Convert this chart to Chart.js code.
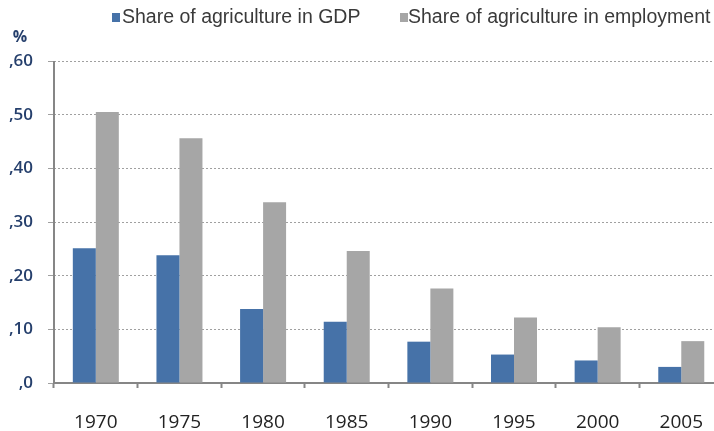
<!DOCTYPE html>
<html lang="en">
<head>
<meta charset="UTF-8">
<title>Share of agriculture</title>
<style>
    body {
        margin: 0;
        background: #ffffff;
        overflow: hidden;
    }
    #wrap {
        width: 726px;
        height: 431px;
    }
</style>
</head>
<body>
<div id="wrap"><canvas id="chart"></canvas></div>

<script src="https://cdn.jsdelivr.net/npm/chart.js"></script>
<script>
    const years = ['1970', '1975', '1980', '1985', '1990', '1995', '2000', '2005'];
    const gdpShare = [0.251, 0.238, 0.138, 0.114, 0.077, 0.053, 0.042, 0.030];
    const employmentShare = [0.505, 0.456, 0.337, 0.246, 0.176, 0.122, 0.104, 0.078];
    const yTicks = [0, 0.1, 0.2, 0.3, 0.4, 0.5, 0.6];

    const axisGray = '#868686';
    const labelNavy = '#253f6c';

    // legend row at the top, the "%" unit above the y axis and a solid y axis line
    const headerPlugin = {
        id: 'header',
        afterDraw(chart) {
            const ctx = chart.ctx;
            const area = chart.chartArea;
            ctx.save();
            ctx.strokeStyle = axisGray;
            ctx.lineWidth = 2;
            ctx.beginPath();
            ctx.moveTo(area.left, area.top);
            ctx.lineTo(area.left, area.bottom);
            ctx.stroke();

            const slots = [{ box: 112, text: 122 }, { box: 400, text: 408 }];
            ctx.textBaseline = 'middle';
            ctx.textAlign = 'left';
            ctx.font = '19.5px "Liberation Sans", Arial, sans-serif';
            chart.data.datasets.forEach((ds, i) => {
                ctx.fillStyle = ds.backgroundColor;
                ctx.fillRect(slots[i].box, 13, 8, 9);
                ctx.fillStyle = '#3a3a3a';
                ctx.fillText(ds.label, slots[i].text, 18);
            });
            ctx.font = 'bold 16px "Open Sans", Arial, sans-serif';
            ctx.fillStyle = labelNavy;
            ctx.textAlign = 'center';
            ctx.fillText('%', 20, 37);
            ctx.restore();
        }
    };

    new Chart(document.getElementById('chart'), {
        type: 'bar',
        data: {
            labels: years,
            datasets: [{
                label: 'Share of agriculture in GDP',
                data: gdpShare,
                backgroundColor: '#4672a8',
                borderWidth: 0,
                categoryPercentage: 0.55,
                barPercentage: 1.0
            }, {
                label: 'Share of agriculture in employment',
                data: employmentShare,
                backgroundColor: '#a6a6a6',
                borderWidth: 0,
                categoryPercentage: 0.55,
                barPercentage: 1.0
            }]
        },
        options: {
            responsive: true,
            maintainAspectRatio: false,
            animation: false,
            layout: {
                padding: { top: 61, bottom: 0, left: 0, right: 0 }
            },
            plugins: {
                legend: { display: false },
                tooltip: { enabled: false }
            },
            scales: {
                x: {
                    afterFit(scale) {
                        scale.height = 48;
                    },
                    grid: {
                        display: true,
                        drawOnChartArea: false,
                        drawTicks: true,
                        tickLength: 5,
                        tickColor: axisGray,
                        tickWidth: 2,
                        offset: true
                    },
                    border: { color: axisGray, width: 2 },
                    ticks: {
                        color: '#222222',
                        padding: 23,
                        font: { family: '"Open Sans", sans-serif', size: 19 }
                    }
                },
                y: {
                    min: 0,
                    max: 0.6,
                    afterFit(scale) {
                        scale.width = 54;
                    },
                    afterBuildTicks(scale) {
                        scale.ticks = yTicks.map(v => ({ value: v }));
                    },
                    grid: {
                        color: '#a0a0a0',
                        lineWidth: 1,
                        tickLength: 6,
                        tickColor: '#a0a0a0'
                    },
                    border: { display: false, dash: [2, 2] },
                    ticks: {
                        color: labelNavy,
                        padding: 15,
                        font: { family: '"Open Sans", sans-serif', size: 17, weight: '600' },
                        callback: v => v === 0 ? ',0' : ',' + Math.round(v * 100)
                    }
                }
            }
        },
        plugins: [headerPlugin]
    });
</script>
</body>
</html>
